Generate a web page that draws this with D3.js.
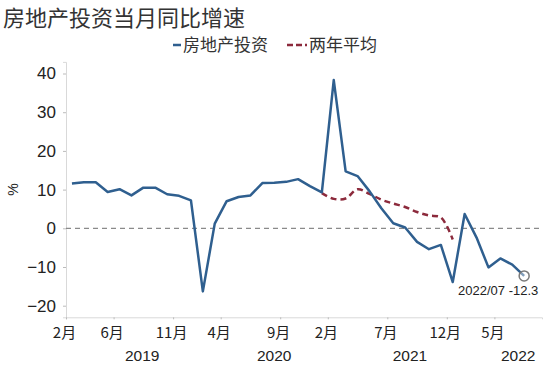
<!DOCTYPE html>
<html>
<head>
<meta charset="utf-8">
<script src="https://cdn.jsdelivr.net/npm/d3@7"></script>
<style>
  body { margin: 0; background: #fff; }
  text { font-family: "Liberation Sans", Arial, sans-serif; fill: #222; }
  .cjk { font-family: "Noto Sans CJK SC", sans-serif; }
</style>
</head>
<body>
<div id="chart"></div>
<script>
// data: monthly yoy growth, Jan merged into Feb (so no 1月 points)
const months = [
  "2019-02","2019-03","2019-04","2019-05","2019-06","2019-07","2019-08","2019-09","2019-10","2019-11","2019-12",
  "2020-02","2020-03","2020-04","2020-05","2020-06","2020-07","2020-08","2020-09","2020-10","2020-11","2020-12",
  "2021-02","2021-03","2021-04","2021-05","2021-06","2021-07","2021-08","2021-09","2021-10","2021-11","2021-12",
  "2022-02","2022-03","2022-04","2022-05","2022-06","2022-07"
]
const investment = [
  11.6, 11.9, 11.9, 9.4, 10.1, 8.5, 10.5, 10.5, 8.8, 8.4, 7.2,
  -16.3, 1.2, 7.0, 8.1, 8.5, 11.7, 11.8, 12.0, 12.7, 10.9, 9.3,
  38.3, 14.7, 13.5, 9.6, 5.2, 1.3, 0.2, -3.5, -5.4, -4.3, -13.9,
  3.7, -2.4, -10.1, -7.8, -9.4, -12.3
]
// two-year average, Dec 2020 .. Dec 2021
const twoYearStart = 21
const twoYearAvg = [9.1, 7.6, 7.7, 10.1, 8.9, 7.4, 6.4, 5.5, 4.2, 3.3, 2.8, -2.9]

const monthTickIdx = [0, 4, 9, 13, 18, 22, 27, 32, 36]
const monthTickLabels = ["2月","6月","11月","4月","9月","2月","7月","12月","5月"]
const yearLabels = ["2019","2020","2021","2022"]
const yearLabelPos = [5.9, 17, 28.4, 37.5]
const yTicks = [-20, -10, 0, 10, 20, 30, 40]

const width = 550
const height = 365

const svg = d3.select("#chart").append("svg")
    .attr("width", width)
    .attr("height", height)

const x = d3.scaleLinear()
    .domain([-0.5, 39.5])
    .range([66, 542])

const y = d3.scaleLinear()
    .domain([-23, 43])
    .range([317.3, 61.9])

// title
svg.append("text")
    .attr("class", "cjk")
    .attr("x", 3)
    .attr("y", 26)
    .style("font-size", "22px")
    .style("fill", "#333")
    .text("房地产投资当月同比增速")

// legend
const legend = svg.append("g")
legend.append("line")
    .attr("x1", 173).attr("x2", 181)
    .attr("y1", 45).attr("y2", 45)
    .attr("stroke", "#2f5f8f").attr("stroke-width", 2.5)
legend.append("text")
    .attr("class", "cjk")
    .attr("x", 183).attr("y", 51)
    .style("font-size", "17px").style("fill", "#333")
    .text("房地产投资")
legend.append("line")
    .attr("x1", 287).attr("x2", 307)
    .attr("y1", 45).attr("y2", 45)
    .attr("stroke", "#8c2a3c").attr("stroke-width", 2.5)
    .attr("stroke-dasharray", "6,3")
legend.append("text")
    .attr("class", "cjk")
    .attr("x", 309).attr("y", 51)
    .style("font-size", "17px").style("fill", "#333")
    .text("两年平均")

// y axis
const yAxis = svg.append("g")
    .attr("transform", `translate(${x(-0.5)},0)`)
    .call(d3.axisLeft(y).tickValues(yTicks).tickSize(3).tickPadding(7))
yAxis.select(".domain").attr("stroke", "#d9d9d9")
yAxis.selectAll(".tick line").attr("stroke", "#bbb")
yAxis.selectAll(".tick text")
    .style("font-size", "17px")
    .style("font-family", "'Liberation Sans', Arial, sans-serif")
    .attr("fill", "#222")

svg.append("text")
    .attr("transform", `translate(18,${y(10)}) rotate(-90)`)
    .attr("text-anchor", "middle")
    .style("font-size", "14px")
    .text("%")

// x axis
const xAxis = svg.append("g")
    .attr("transform", `translate(0,${y(-23)})`)
    .call(d3.axisBottom(x)
      .tickValues(monthTickIdx.map(i => i - 0.5))
      .tickSize(2)
      .tickFormat(""))
xAxis.select(".domain").attr("stroke", "#d9d9d9")
xAxis.selectAll(".tick line").attr("stroke", "#bbb")

svg.append("g").selectAll("text")
    .data(monthTickIdx)
    .join("text")
      .attr("class", "cjk")
      .attr("x", i => x(i - 0.5) - 1.5)
      .attr("y", 338)
      .attr("text-anchor", "middle")
      .style("font-size", "15px")
      .text((d, i) => monthTickLabels[i])

svg.append("g").selectAll("text")
    .data(yearLabels)
    .join("text")
      .attr("x", (d, i) => x(yearLabelPos[i]))
      .attr("y", 361)
      .attr("text-anchor", "middle")
      .style("font-size", "15.5px")
      .text(d => d)

// zero line
svg.append("line")
    .attr("x1", x(-0.5)).attr("x2", x(39.5))
    .attr("y1", y(0)).attr("y2", y(0))
    .attr("stroke", "#8a8a8a")
    .attr("stroke-width", 1.2)
    .attr("stroke-dasharray", "5,4")

// two-year average (smoothed dashed)
const avgLine = d3.line()
    .x((d, i) => x(twoYearStart + i))
    .y(d => y(d))
    .curve(d3.curveCatmullRom.alpha(0.5))

svg.append("path")
    .datum(twoYearAvg)
    .attr("d", avgLine)
    .attr("fill", "none")
    .attr("stroke", "#8c2a3c")
    .attr("stroke-width", 2.5)
    .attr("stroke-dasharray", "6,4")

// investment line
const invLine = d3.line()
    .x((d, i) => x(i))
    .y(d => y(d))

svg.append("path")
    .datum(investment)
    .attr("d", invLine)
    .attr("fill", "none")
    .attr("stroke", "#2f5f8f")
    .attr("stroke-width", 2.5)
    .attr("stroke-linejoin", "round")

// last point annotation
const last = investment.length - 1
svg.append("circle")
    .attr("cx", x(last))
    .attr("cy", y(investment[last]))
    .attr("r", 5)
    .attr("fill", "rgba(255,255,255,0.4)")
    .attr("stroke", "#7a7a7a")
    .attr("stroke-width", 1.5)

svg.append("text")
    .attr("x", x(last) - 26)
    .attr("y", y(investment[last]) + 19)
    .attr("text-anchor", "middle")
    .style("font-size", "13px")
    .text(months[last].replace("-", "/") + " " + investment[last])
</script>
</body>
</html>
